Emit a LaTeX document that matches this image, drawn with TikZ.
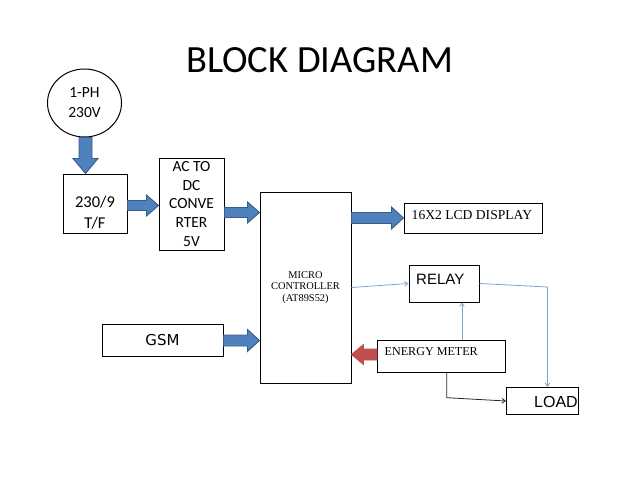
\documentclass[tikz,border=0pt]{standalone}
\usepackage{fontspec}
\setmainfont{Carlito}
\newfontfamily\timesf{Liberation Serif}
\newfontfamily\arialf{Liberation Sans}
\newfontfamily\verdf{DejaVu Sans}
\usetikzlibrary{calc,arrows.meta,shapes.geometric}
\definecolor{fatblue}{HTML}{4F81BD}
\definecolor{fatedge}{HTML}{385D8A}
\definecolor{fatred}{HTML}{C0504D}
\definecolor{thinblue}{HTML}{7FA2CF}
\def\fs{5pt}\def\fh{10.5pt}\def\fl{12pt}
\tikzset{
  box/.style={draw=black, line width=1pt, rectangle, inner sep=0pt},
  fatdims/.code n args={3}{\def\fs{#1}\def\fh{#2}\def\fl{#3}},
  fat/.style={fill=fatblue, draw=fatedge, line width=0.9pt, line join=miter,
    to path={let \p1=(\tikztostart), \p2=(\tikztotarget),
      \p3=($(\tikztotarget)!\fl!(\tikztostart)$) in
      ($(\p1)!\fs!90:(\p2)$) -- ($(\p3)!\fs!-90:(\p1)$) -- ($(\p3)!\fh!-90:(\p1)$)
      -- (\p2) -- ($(\p3)!\fh!90:(\p1)$) -- ($(\p3)!\fs!90:(\p1)$)
      -- ($(\p1)!\fs!-90:(\p2)$) -- cycle}},
  fatr/.style={fat, fill=fatred, draw=fatred},
  thin/.style={draw=thinblue, line width=0.8pt, -{Straight Barb[angle=70:4pt]}},
  thinblack/.style={draw=black!85, line width=0.8pt, -{Straight Barb[angle=70:4pt]}},
  cal/.style={font=\fontsize{15.5}{18.7}\selectfont, align=center},
}
\begin{document}
\begin{tikzpicture}[x=1pt,y=-1pt]
\useasboundingbox (0,0) rectangle (638,479);
\node (title) at (319.5,60) {\fontsize{38.5}{40}\selectfont BLOCK DIAGRAM};

\node[draw=black, line width=1pt, ellipse, minimum width=74pt, minimum height=68pt, inner sep=0pt, align=center, font=\fontsize{15.5}{20}\selectfont] (circ) at (84.5,103) {1-PH\\230V};
\node[box, minimum width=64pt, minimum height=59pt, align=center, font=\fontsize{16.5}{22}\selectfont, text depth=0pt] (tf) at (95,203.5) {\raisebox{-3pt}{\begin{tabular}{@{}c@{}}230/9\\[-0.5pt]T/F\end{tabular}}};
\node[box, minimum width=65pt, minimum height=92pt, cal] (acdc) at (191.5,204) {AC TO\\DC\\CONVE\\RTER\\5V};
\node[box, minimum width=91pt, minimum height=191pt, align=center, font=\timesf\fontsize{10.4}{11.5}\selectfont] (mc) at (305.5,287.5) {\raisebox{-3pt}{\begin{tabular}{@{}c@{}}MICRO\\CONTROLLER\\(AT89S52)\end{tabular}}};
\node[box, minimum width=138pt, minimum height=30pt] (lcd) at (473,218) {};
\node[anchor=west, inner sep=0pt, font=\timesf\fontsize{13.6}{14}\selectfont] (lcdt) at (411.5,215) {16X2 LCD DISPLAY};
\node[box, minimum width=70pt, minimum height=37pt] (relay) at (444,283.5) {};
\node[anchor=west, inner sep=0pt, font=\arialf\fontsize{15}{16}\selectfont] (relayt) at (416,279.5) {RELAY};
\node[box, minimum width=128pt, minimum height=32pt] (em) at (441.5,356) {};
\node[anchor=west, inner sep=0pt, font=\timesf\fontsize{12.1}{13}\selectfont] (emt) at (384.5,351.7) {ENERGY METER};
\node[box, minimum width=72pt, minimum height=27pt] (load) at (542.5,401) {};
\node[anchor=west, inner sep=0pt, font=\arialf\fontsize{16}{17}\selectfont] (loadt) at (534,401.5) {LOAD};
\node[box, minimum width=121pt, minimum height=32pt, font=\verdf\fontsize{15}{16}\selectfont] (gsm) at (162.5,340) {GSM};

% fat arrows
\draw[fat, fatdims={6.5pt}{12.5pt}{15pt}] ([xshift=1pt]circ.south) to ([xshift=1pt]circ.south |- tf.north);
\draw[fat] ([yshift=-2pt]tf.east) to ([yshift=-2pt]tf.east -| acdc.west);
\draw[fat] ([yshift=-8.5pt]acdc.east) to ([yshift=-8.5pt]acdc.east -| mc.west);
\draw[fat, fatdims={5.5pt}{11pt}{12pt}] (lcd.west -| mc.east) to (lcd.west);
\draw[fat, fatdims={5.5pt}{11pt}{12pt}] ([yshift=-0.5pt]gsm.east) to ([yshift=-0.5pt]gsm.east -| mc.west);
\draw[fatr, fatdims={5.5pt}{10pt}{12pt}] ([yshift=1.5pt]em.west) to ([yshift=1.5pt]em.west -| mc.east);

% thin connectors
\coordinate (c1) at (547.5,287);
\coordinate (c2) at (446.7,397.7);
\draw[thin] (mc.east) -- (relay.west);
\draw[thin] (relay.east) -- (c1) -- (c1 |- load.north);
\draw[thin] ([xshift=20.5pt]em.north) -- ([xshift=20.5pt]em.north |- relay.south);
\draw[thinblack] ([xshift=5.2pt]em.south) -- (c2) -- (load.west);
\end{tikzpicture}
\end{document}
